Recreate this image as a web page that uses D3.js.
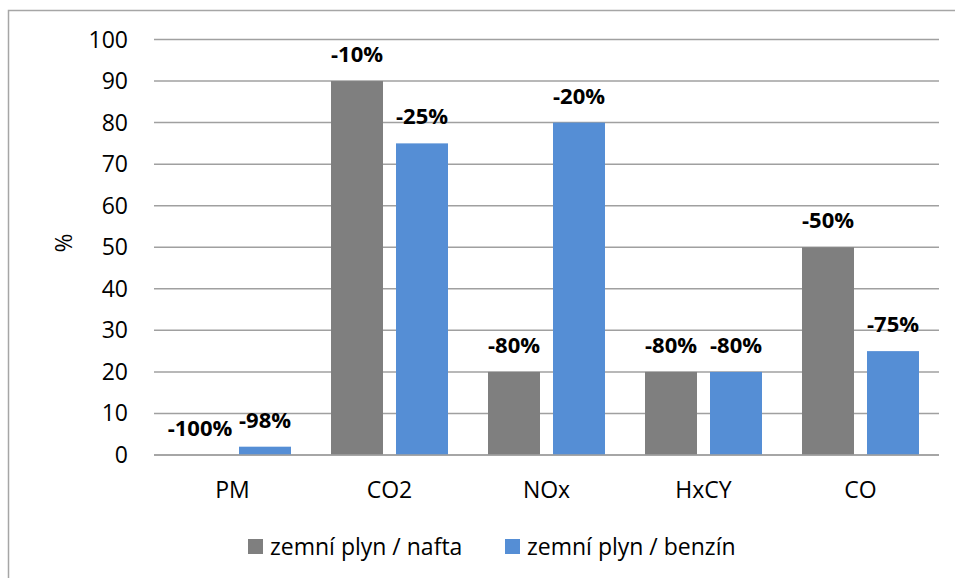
<!DOCTYPE html>
<html><head><meta charset="utf-8">
<script src="https://cdn.jsdelivr.net/npm/d3@7"></script>
<style>body{margin:0;background:#fff;} svg{display:block;}</style>
</head><body>
<script>
const categories = ["PM","CO2","NOx","HxCY","CO"];
const seriesNames = ["zemní plyn / nafta","zemní plyn / benzín"];
const naftaValues = [0, 90, 20, 20, 50];
const benzinValues = [2, 75, 80, 20, 25];
const naftaLabels = ["-100%","-10%","-80%","-80%","-50%"];
const benzinLabels = ["-98%","-25%","-20%","-80%","-75%"];
const yTicks = [0,10,20,30,40,50,60,70,80,90,100];
const colors = ["#7f7f7f","#558ed5"];

(function(){
const W=955,H=578;
const svg=d3.select("body").append("svg").attr("width",W).attr("height",H);
const font="'Open Sans', Calibri, sans-serif";
svg.append("rect").attr("x",8.5).attr("y",10.5).attr("width",W).attr("height",H).attr("fill","#fff").attr("stroke","#a6a6a6").attr("stroke-width",1.5);

const pLeft=154,pRight=939,pTop=39.5,pBottom=455;
const x=d3.scaleBand().domain(categories).range([pLeft,pRight]);
const y=d3.scaleLinear().domain([0,100]).range([pBottom,pTop]);
const outer=20, gap=13, bw=(x.bandwidth()-2*outer-gap)/2;

svg.append("g").selectAll("line").data(yTicks).join("line")
  .attr("x1",pLeft).attr("x2",pRight).attr("y1",d=>y(d)).attr("y2",d=>y(d))
  .attr("stroke","#a0a0a0").attr("stroke-width",1.5);

svg.append("g").selectAll("text").data(yTicks).join("text")
  .attr("x",128).attr("y",d=>y(d)+8).attr("text-anchor","end")
  .style("font-family",font).style("font-size","23px").attr("fill","#000").text(d=>d);

svg.append("text").attr("transform","translate(72,243) rotate(-90)").attr("text-anchor","middle")
  .style("font-family",font).style("font-size","23px").text("%");

const series=[naftaValues,benzinValues];
const labels=[naftaLabels,benzinLabels];
series.forEach((vals,si)=>{
  const g=svg.append("g");
  g.selectAll("rect").data(categories).join("rect")
    .attr("x",(c)=>x(c)+outer+si*(bw+gap)).attr("width",bw)
    .attr("y",(c,i)=>y(vals[i])).attr("height",(c,i)=>pBottom-y(vals[i]))
    .attr("fill",colors[si]);
  g.selectAll("text").data(categories).join("text")
    .attr("x",(c)=>x(c)+outer+si*(bw+gap)+bw/2)
    .attr("y",(c,i)=>y(vals[i])-19)
    .attr("text-anchor","middle")
    .style("font-family",font).style("font-size","22px").style("font-weight","bold")
    .text((c,i)=>labels[si][i]);
});

svg.append("line").attr("x1",pLeft).attr("x2",pRight).attr("y1",pBottom).attr("y2",pBottom).attr("stroke","#a0a0a0").attr("stroke-width",1.5);

svg.append("g").selectAll("text").data(categories).join("text")
  .attr("x",c=>x(c)+x.bandwidth()/2).attr("y",498).attr("text-anchor","middle")
  .style("font-family",font).style("font-size","23px").text(c=>c);

const legX=[248,505];
seriesNames.forEach((n,i)=>{
  svg.append("rect").attr("x",legX[i]).attr("y",539).attr("width",15).attr("height",15).attr("fill",colors[i]);
  svg.append("text").attr("x",legX[i]+22).attr("y",555).style("font-family",font).style("font-size","23px").text(n);
});
})();
</script>
</body></html>
